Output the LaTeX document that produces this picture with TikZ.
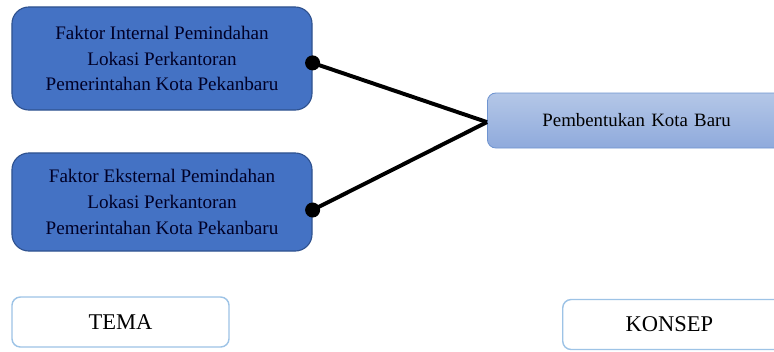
\documentclass[tikz,border=0pt]{standalone}
\usepackage{fontspec}
\setmainfont{Liberation Serif}
\definecolor{boxblue}{HTML}{4472C4}
\definecolor{boxedge}{HTML}{2F528F}
\definecolor{lightedge}{HTML}{6F94D0}
\definecolor{lighttop}{HTML}{B4C7E7}
\definecolor{lightbot}{HTML}{8FAADC}
\definecolor{frameblue}{HTML}{9DC3E6}
\begin{document}
\begin{tikzpicture}[x=0.025cm,y=-0.025cm,
   faktor/.style={draw=boxedge,fill=boxblue,rounded corners=12pt,line width=0.8pt,
      minimum width=7.5cm,align=center,
      font=\fontsize{13.6}{18.4}\selectfont,text=black!85!blue},
   konsepbox/.style={draw=lightedge,top color=lighttop,bottom color=lightbot,
      rounded corners=6pt,line width=0.6pt,minimum width=7.4cm,minimum height=1.375cm,
      font=\fontsize{13.4}{15}\selectfont},
   keterangan/.style={draw=frameblue,fill=white,rounded corners=6pt,line width=1pt,
      minimum height=1.25cm,font=\fontsize{16}{18}\selectfont},
   garis/.style={line width=2.8pt}]
   \useasboundingbox (0,0) rectangle (774,351);
   % kotak faktor
   \node[faktor,minimum height=2.575cm] (internal) at (162,58.5) {Faktor Internal Pemindahan\\Lokasi Perkantoran\\Pemerintahan Kota Pekanbaru};
   \node[faktor,minimum height=2.45cm] (eksternal) at (162,202) {Faktor Eksternal Pemindahan\\Lokasi Perkantoran\\Pemerintahan Kota Pekanbaru};
   % kotak konsep
   \node[konsepbox,anchor=west,text width=6.1cm,align=left,inner xsep=1.375cm] (baru) at (487,120.5) {Pembentukan Kota Baru};

   % garis penghubung
   \coordinate (titik1) at ([yshift=-0.11cm]internal.east);
   \coordinate (titik2) at ([yshift=-0.2cm]eksternal.east);
   \coordinate (temu) at ([yshift=-0.04cm]baru.west);
   \draw[garis] (titik1) -- (temu);
   \draw[garis] (titik2) -- (temu);
   \fill (titik1) circle (7.5);
   \fill (titik2) circle (7.5);

   % keterangan
   \node[keterangan,minimum width=5.425cm] (tema) at (120.5,322) {TEMA};
   \node[keterangan,anchor=west,minimum width=6cm,text width=3.5cm,align=left,inner xsep=1.575cm] (konsep) at (562,324.5) {KONSEP};
\end{tikzpicture}
\end{document}
